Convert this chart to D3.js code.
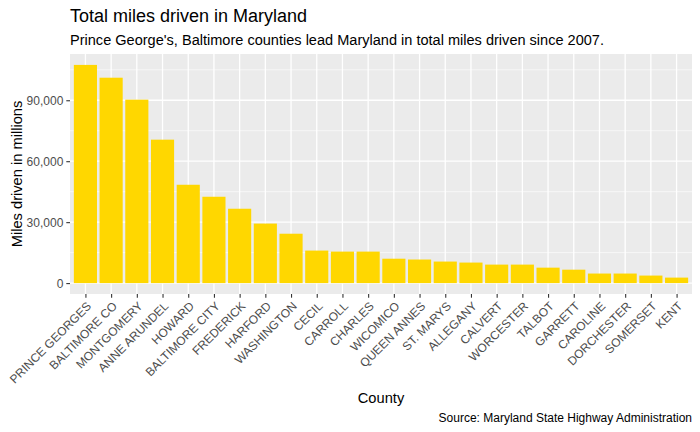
<!DOCTYPE html>
<html>
<head>
<meta charset="utf-8">
<script src="https://cdn.jsdelivr.net/npm/d3@7"></script>
<style>
	body { margin: 0; background: #fff; }
	svg { display: block; font-family: "Liberation Sans", Arial, sans-serif; }
</style>
</head>
<body>
<div id="chart"></div>
<script>

// DATA

const counties = [
	'PRINCE GEORGES', 'BALTIMORE CO', 'MONTGOMERY', 'ANNE ARUNDEL', 'HOWARD',
	'BALTIMORE CITY', 'FREDERICK', 'HARFORD', 'WASHINGTON', 'CECIL', 'CARROLL',
	'CHARLES', 'WICOMICO', 'QUEEN ANNES', 'ST. MARYS', 'ALLEGANY', 'CALVERT',
	'WORCESTER', 'TALBOT', 'GARRETT', 'CAROLINE', 'DORCHESTER', 'SOMERSET', 'KENT'
];

const miles = [
	107400, 101100, 90300, 70600, 48400,
	42500, 36600, 29300, 24300, 16000, 15500,
	15500, 12000, 11600, 10600, 10100, 9100,
	9100, 7600, 6600, 4700, 4700, 3700, 2700
];

const yTicks = [0, 30000, 60000, 90000],
			yMinor = [15000, 45000, 75000, 105000];

// CHART

const width = 700,
			height = 432,
			panel = { left: 70, right: 692, top: 54, bottom: 294 };

const svg = d3.select('#chart')
	.append('svg')
	.attr('width', width)
	.attr('height', height);

const yMax = d3.max(miles),
			pad = yMax * 0.05;

const y = d3.scaleLinear()
	.domain([-pad, yMax + pad])
	.range([panel.bottom, panel.top]);

// ggplot discrete expansion of 0.6 units each side
const x = d3.scalePoint()
	.domain(counties)
	.range([panel.left, panel.right])
	.padding(0.6);

const step = x.step(),
			barW = step * 0.9;

svg.append('rect')
	.attr('x', panel.left)
	.attr('y', panel.top)
	.attr('width', panel.right - panel.left)
	.attr('height', panel.bottom - panel.top)
	.attr('fill', '#EBEBEB');

const grid = svg.append('g');

grid.selectAll('.minor')
	.data(yMinor)
	.join('line')
	.attr('x1', panel.left).attr('x2', panel.right)
	.attr('y1', d => y(d)).attr('y2', d => y(d))
	.attr('stroke', '#fff')
	.attr('stroke-width', 0.6);

grid.selectAll('.major')
	.data(yTicks)
	.join('line')
	.attr('x1', panel.left).attr('x2', panel.right)
	.attr('y1', d => y(d)).attr('y2', d => y(d))
	.attr('stroke', '#fff')
	.attr('stroke-width', 1.3);

grid.selectAll('.vert')
	.data(counties)
	.join('line')
	.attr('x1', d => x(d)).attr('x2', d => x(d))
	.attr('y1', panel.top).attr('y2', panel.bottom)
	.attr('stroke', '#fff')
	.attr('stroke-width', 1.3);

svg.append('g')
	.selectAll('rect')
	.data(counties)
	.join('rect')
	.attr('x', (d, i) => x(d) - barW / 2)
	.attr('width', barW)
	.attr('y', (d, i) => y(miles[i]))
	.attr('height', (d, i) => y(0) - y(miles[i]))
	.attr('fill', '#FFD700');

// axes

const yAxis = d3.axisLeft(y)
	.tickValues(yTicks)
	.tickFormat(d3.format(','))
	.tickSize(3.7)
	.tickPadding(3);

const xAxis = d3.axisBottom(x)
	.tickSize(3.7)
	.tickPadding(3);

const gy = svg.append('g')
	.attr('transform', `translate(${panel.left},0)`)
	.call(yAxis);

const gx = svg.append('g')
	.attr('transform', `translate(0,${panel.bottom})`)
	.call(xAxis);

[gy, gx].forEach(g => {
	g.select('.domain').remove();
	g.selectAll('.tick line').attr('stroke', '#333333').attr('stroke-width', 1.1);
	g.selectAll('.tick text')
		.attr('fill', '#4D4D4D')
		.style('font-size', '12px')
		.style('font-family', '"Liberation Sans", Arial, sans-serif');
});

gy.selectAll('.tick text').attr('dy', '0.35em');

gx.selectAll('.tick text')
	.attr('text-anchor', 'end')
	.attr('y', 0)
	.attr('dy', '0.72em')
	.attr('transform', 'translate(0,6.7) rotate(-45)');

// titles

svg.append('text')
	.attr('x', panel.left)
	.attr('y', 22)
	.style('font-size', '18px')
	.attr('fill', '#000')
	.text('Total miles driven in Maryland');

svg.append('text')
	.attr('x', panel.left)
	.attr('y', 45)
	.style('font-size', '14.55px')
	.attr('fill', '#000')
	.text("Prince George's, Baltimore counties lead Maryland in total miles driven since 2007.");

svg.append('text')
	.attr('transform', `translate(22,${(panel.top + panel.bottom) / 2}) rotate(-90)`)
	.attr('text-anchor', 'middle')
	.style('font-size', '14.67px')
	.attr('fill', '#000')
	.text('Miles driven in millions');

svg.append('text')
	.attr('x', (panel.left + panel.right) / 2)
	.attr('y', 403)
	.attr('text-anchor', 'middle')
	.style('font-size', '14.67px')
	.attr('fill', '#000')
	.text('County');

svg.append('text')
	.attr('x', panel.right)
	.attr('y', 422)
	.attr('text-anchor', 'end')
	.style('font-size', '12px')
	.attr('fill', '#000')
	.text('Source: Maryland State Highway Administration');

</script>
</body>
</html>
